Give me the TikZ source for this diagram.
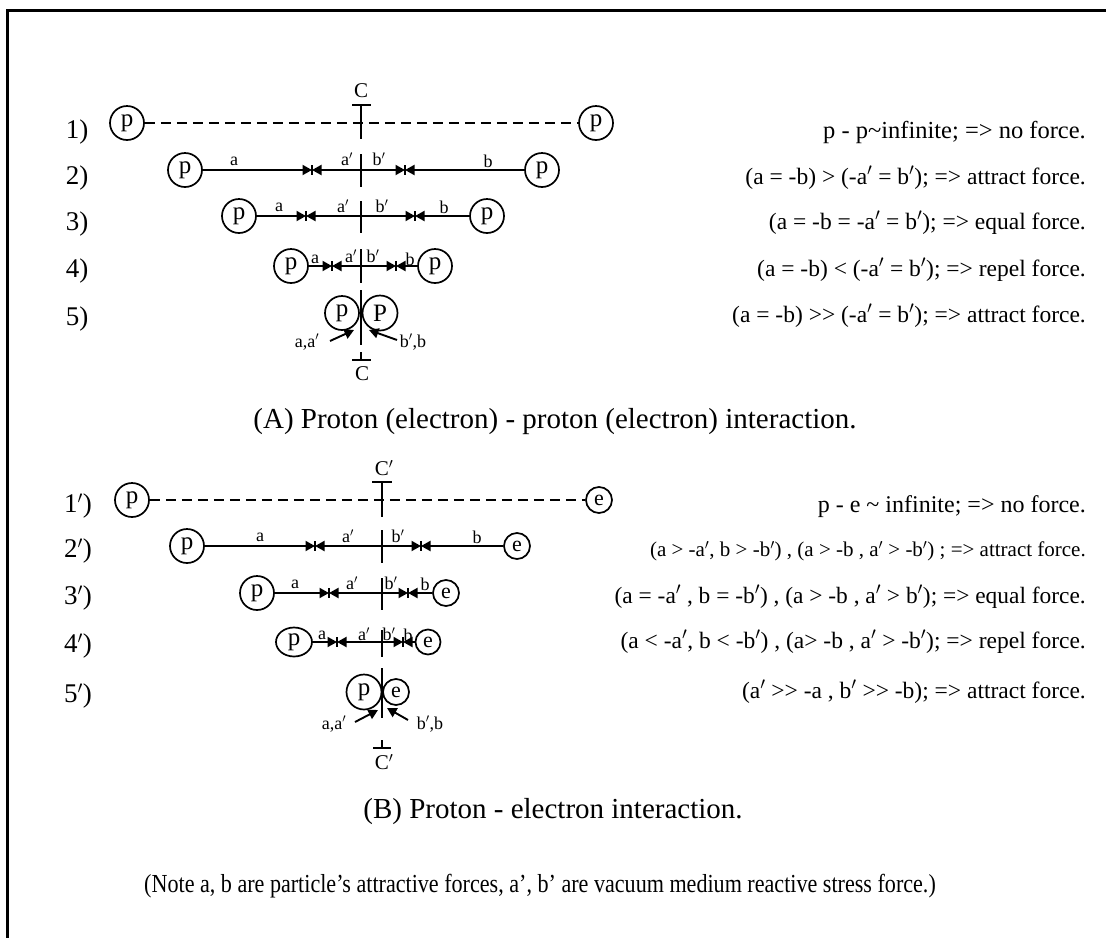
\documentclass[tikz,border=0pt]{standalone}
\usepackage{fontspec}
\setmainfont{Liberation Serif}
\newfontfamily\notefont[FakeStretch=0.85]{Liberation Serif}
\usetikzlibrary{arrows.meta,shapes.geometric}
\newcommand\pr{\ensuremath{'}}
\newcommand\fs[1]{\fontsize{#1}{#1}\selectfont}
\begin{document}
\begin{tikzpicture}[x=1pt,y=-1pt,
  lw/.style={line width=1.9pt},
  part/.style={draw,circle,line width=1.7pt,inner sep=0pt,minimum size=34pt,font=\fs{25}},
  epart/.style={part,minimum size=26pt,font=\fs{22}},
  rowlab/.style={font=\fs{27}},
  rtext/.style={anchor=east,inner sep=0pt,font=\fs{23.5}},
  flab/.style={font=\fs{18},inner sep=0pt},
  cletter/.style={font=\fs{21},inner sep=0pt},
  captext/.style={font=\fs{29}},
  force/.style={line width=1.9pt,-{Triangle[length=9.5pt,width=10pt]}},
  tickmark/.style={line width=1.5pt},
  dashline/.style={line width=1.9pt,dash pattern=on 10pt off 6pt},
]
\useasboundingbox (0,0) rectangle (1106,938);
% frame
\draw[line width=3pt] (6,10) -- (1106,10);
\draw[line width=3pt] (7,10) -- (7,938);

% ================= Section A =================
% row 1
\node[part] (a1L) at (127,123) {p};
\node[part] (a1R) at (596,123) {p};
\draw[dashline] (a1L) -- (a1R);
\draw[lw] (361,105) -- (361,139);
\draw[lw] (352,105) -- (371,105);
\node[cletter] (a1C) at (361,91) {C};
% row 2
\node[part] (a2L) at (185,170) {p};
\node[part] (a2R) at (542,170) {p};
\coordinate (a2c) at (361,170);
\coordinate (a2m1) at (312,170); \coordinate (a2m2) at (405,170);
\draw[force] (a2L) -- (a2m1); \draw[force] (a2c) -- (a2m1);
\draw[force] (a2R) -- (a2m2); \draw[force] (a2c) -- (a2m2);
\draw[tickmark] (a2m1) ++(0,-5) -- ++(0,10);
\draw[tickmark] (a2m2) ++(0,-5) -- ++(0,10);
\draw[lw] (361,154) -- (361,187);
\node[flab] (a2la) at (234,161) {a};
\node[flab] (a2lap) at (347,159) {a\pr};
\node[flab] (a2lbp) at (379,159) {b\pr};
\node[flab] (a2lb) at (488,161) {b};
% row 3
\node[part] (a3L) at (239,216) {p};
\node[part] (a3R) at (487,216) {p};
\coordinate (a3c) at (361,216);
\coordinate (a3m1) at (306,216); \coordinate (a3m2) at (415,216);
\draw[force] (a3L) -- (a3m1); \draw[force] (a3c) -- (a3m1);
\draw[force] (a3R) -- (a3m2); \draw[force] (a3c) -- (a3m2);
\draw[tickmark] (a3m1) ++(0,-5) -- ++(0,10);
\draw[tickmark] (a3m2) ++(0,-5) -- ++(0,10);
\draw[lw] (361,201) -- (361,233);
\node[flab] (a3la) at (279,207) {a};
\node[flab] (a3lap) at (343,206) {a\pr};
\node[flab] (a3lbp) at (382,206) {b\pr};
\node[flab] (a3lb) at (444,207) {b};
% row 4
\node[part] (a4L) at (291,266) {p};
\node[part] (a4R) at (435,266) {p};
\coordinate (a4c) at (361,266);
\coordinate (a4m1) at (332,266); \coordinate (a4m2) at (396,266);
\draw[force] (a4L) -- (a4m1); \draw[force] (a4c) -- (a4m1);
\draw[force] (a4R) -- (a4m2); \draw[force] (a4c) -- (a4m2);
\draw[tickmark] (a4m1) ++(0,-5) -- ++(0,10);
\draw[tickmark] (a4m2) ++(0,-5) -- ++(0,10);
\draw[lw] (361,249) -- (361,283);
\node[flab] (a4la) at (315,259) {a};
\node[flab] (a4lap) at (351,256) {a\pr};
\node[flab] (a4lbp) at (373,256) {b\pr};
\node[flab] (a4lb) at (410,259) {b};
% row 5
\draw[lw] (361,290) -- (361,345);
\node[part] (a5L) at (342,313) {p};
\node[part,minimum size=35pt] (a5R) at (380,313) {P};
\node[flab] (a5la) at (307,342) {a,a\pr};
\node[flab] (a5lb) at (413,342) {b\pr,b};
\coordinate (a5s1) at (330,341); \coordinate (a5t1) at (354,330);
\coordinate (a5s2) at (397,340); \coordinate (a5t2) at (369,330);
\draw[force] (a5s1) -- (a5t1);
\draw[force] (a5s2) -- (a5t2);
\draw[lw] (361,352) -- (361,360);
\draw[lw] (352,360) -- (371,360);
\node[cletter] (a5C) at (362,374) {C};
% row labels & text A
\node[rowlab] (ra1) at (77,132) {1)};
\node[rowlab] (ra2) at (77,178) {2)};
\node[rowlab] (ra3) at (77,224) {3)};
\node[rowlab] (ra4) at (77,271) {4)};
\node[rowlab] (ra5) at (77,319) {5)};
\node[rtext,font=\fs{24.5}] (ta1) at (1086,132) {p - p\textasciitilde infinite; => no force.};
\node[rtext] (ta2) at (1086,178) {(a = -b) > (-a\pr{} = b\pr); => attract force.};
\node[rtext] (ta3) at (1086,223) {(a = -b = -a\pr{} = b\pr); => equal force.};
\node[rtext] (ta4) at (1086,270) {(a = -b) < (-a\pr{} = b\pr); => repel force.};
\node[rtext] (ta5) at (1086,316) {(a = -b) >{}> (-a\pr{} = b\pr); => attract force.};
\node[captext] (capA) at (555,422) {(A) Proton (electron) - proton (electron) interaction.};

% ================= Section B =================
% row 1'
\node[part] (b1L) at (132,500) {p};
\node[epart] (b1R) at (599,500) {e};
\draw[dashline] (b1L) -- (b1R);
\draw[lw] (382,482) -- (382,517);
\draw[lw] (372,482) -- (392,482);
\node[cletter] (b1C) at (384,468) {C\pr};
% row 2'
\node[part] (b2L) at (187,546) {p};
\node[epart] (b2R) at (517,546) {e};
\coordinate (b2c) at (382,546);
\coordinate (b2m1) at (315,546); \coordinate (b2m2) at (421,546);
\draw[force] (b2L) -- (b2m1); \draw[force] (b2c) -- (b2m1);
\draw[force] (b2R) -- (b2m2); \draw[force] (b2c) -- (b2m2);
\draw[tickmark] (b2m1) ++(0,-5) -- ++(0,10);
\draw[tickmark] (b2m2) ++(0,-5) -- ++(0,10);
\draw[lw] (382,530) -- (382,563);
\node[flab] (b2la) at (260,537) {a};
\node[flab] (b2lap) at (348,536) {a\pr};
\node[flab] (b2lbp) at (398,536) {b\pr};
\node[flab] (b2lb) at (477,537) {b};
% row 3'
\node[part] (b3L) at (257,593) {p};
\node[epart] (b3R) at (446,593) {e};
\coordinate (b3c) at (382,593);
\coordinate (b3m1) at (329,593); \coordinate (b3m2) at (408,593);
\draw[force] (b3L) -- (b3m1); \draw[force] (b3c) -- (b3m1);
\draw[force] (b3R) -- (b3m2); \draw[force] (b3c) -- (b3m2);
\draw[tickmark] (b3m1) ++(0,-5) -- ++(0,10);
\draw[tickmark] (b3m2) ++(0,-5) -- ++(0,10);
\draw[lw] (382,578) -- (382,610);
\node[flab] (b3la) at (295,584) {a};
\node[flab] (b3lap) at (352,583) {a\pr};
\node[flab] (b3lbp) at (391,583) {b\pr};
\node[flab] (b3lb) at (425,584) {b};
% row 4'
\node[draw,ellipse,line width=1.7pt,minimum width=36pt,minimum height=29pt,inner sep=0pt,font=\fs{25}] (b4L) at (294,642) {p};
\node[epart,minimum size=25pt] (b4R) at (428,642) {e};
\coordinate (b4c) at (382,642);
\coordinate (b4m1) at (337,642); \coordinate (b4m2) at (403,642);
\draw[force] (b4L) -- (b4m1); \draw[force] (b4c) -- (b4m1);
\draw[force] (b4R) -- (b4m2); \draw[force] (b4c) -- (b4m2);
\draw[tickmark] (b4m1) ++(0,-5) -- ++(0,10);
\draw[tickmark] (b4m2) ++(0,-5) -- ++(0,10);
\draw[lw] (382,630) -- (382,657);
\node[flab] (b4la) at (322,635) {a};
\node[flab] (b4lap) at (364,634) {a\pr};
\node[flab] (b4lbp) at (389,634) {b\pr};
\node[flab] (b4lb) at (408,635) {b};
% row 5'
\draw[lw] (382,668) -- (382,718);
\node[part,minimum size=35pt] (b5L) at (364,692) {p};
\node[epart] (b5R) at (396,692) {e};
\node[flab] (b5la) at (334,724) {a,a\pr};
\node[flab] (b5lb) at (430,724) {b\pr,b};
\coordinate (b5s1) at (355,722); \coordinate (b5t1) at (378,710);
\coordinate (b5s2) at (408,720); \coordinate (b5t2) at (387,708);
\draw[force] (b5s1) -- (b5t1);
\draw[force] (b5s2) -- (b5t2);
\draw[lw] (382,740) -- (382,748);
\draw[lw] (373,748) -- (391,748);
\node[cletter] (b5C) at (384,762) {C\pr};
% row labels & text B
\node[rowlab] (rb1) at (78,506) {1\pr)};
\node[rowlab] (rb2) at (78,551) {2\pr)};
\node[rowlab] (rb3) at (78,598) {3\pr)};
\node[rowlab] (rb4) at (78,646) {4\pr)};
\node[rowlab] (rb5) at (78,696) {5\pr)};
\node[rtext,font=\fs{24}] (tb1) at (1086,507) {p - e \textasciitilde{} infinite; => no force.};
\node[rtext,font=\fs{21}] (tb2) at (1086,551) {(a > -a\pr, b > -b\pr) , (a > -b , a\pr{} > -b\pr) ; => attract force.};
\node[rtext,font=\fs{23.4}] (tb3) at (1086,597) {(a = -a\pr{} , b = -b\pr) , (a > -b , a\pr{} > b\pr); => equal force.};
\node[rtext,font=\fs{23.5}] (tb4) at (1086,642) {(a < -a\pr, b < -b\pr) , (a> -b , a\pr{} > -b\pr); => repel force.};
\node[rtext,font=\fs{23.5}] (tb5) at (1086,692) {(a\pr{} >{}> -a , b\pr{} >{}> -b); => attract force.};
\node[captext] (capB) at (553,812) {(B) Proton - electron interaction.};
\node[font=\notefont\fs{26}] (note) at (540,886) {(Note a, b are particle’s attractive forces, a’, b’ are vacuum medium reactive stress force.)};
\end{tikzpicture}
\end{document}
